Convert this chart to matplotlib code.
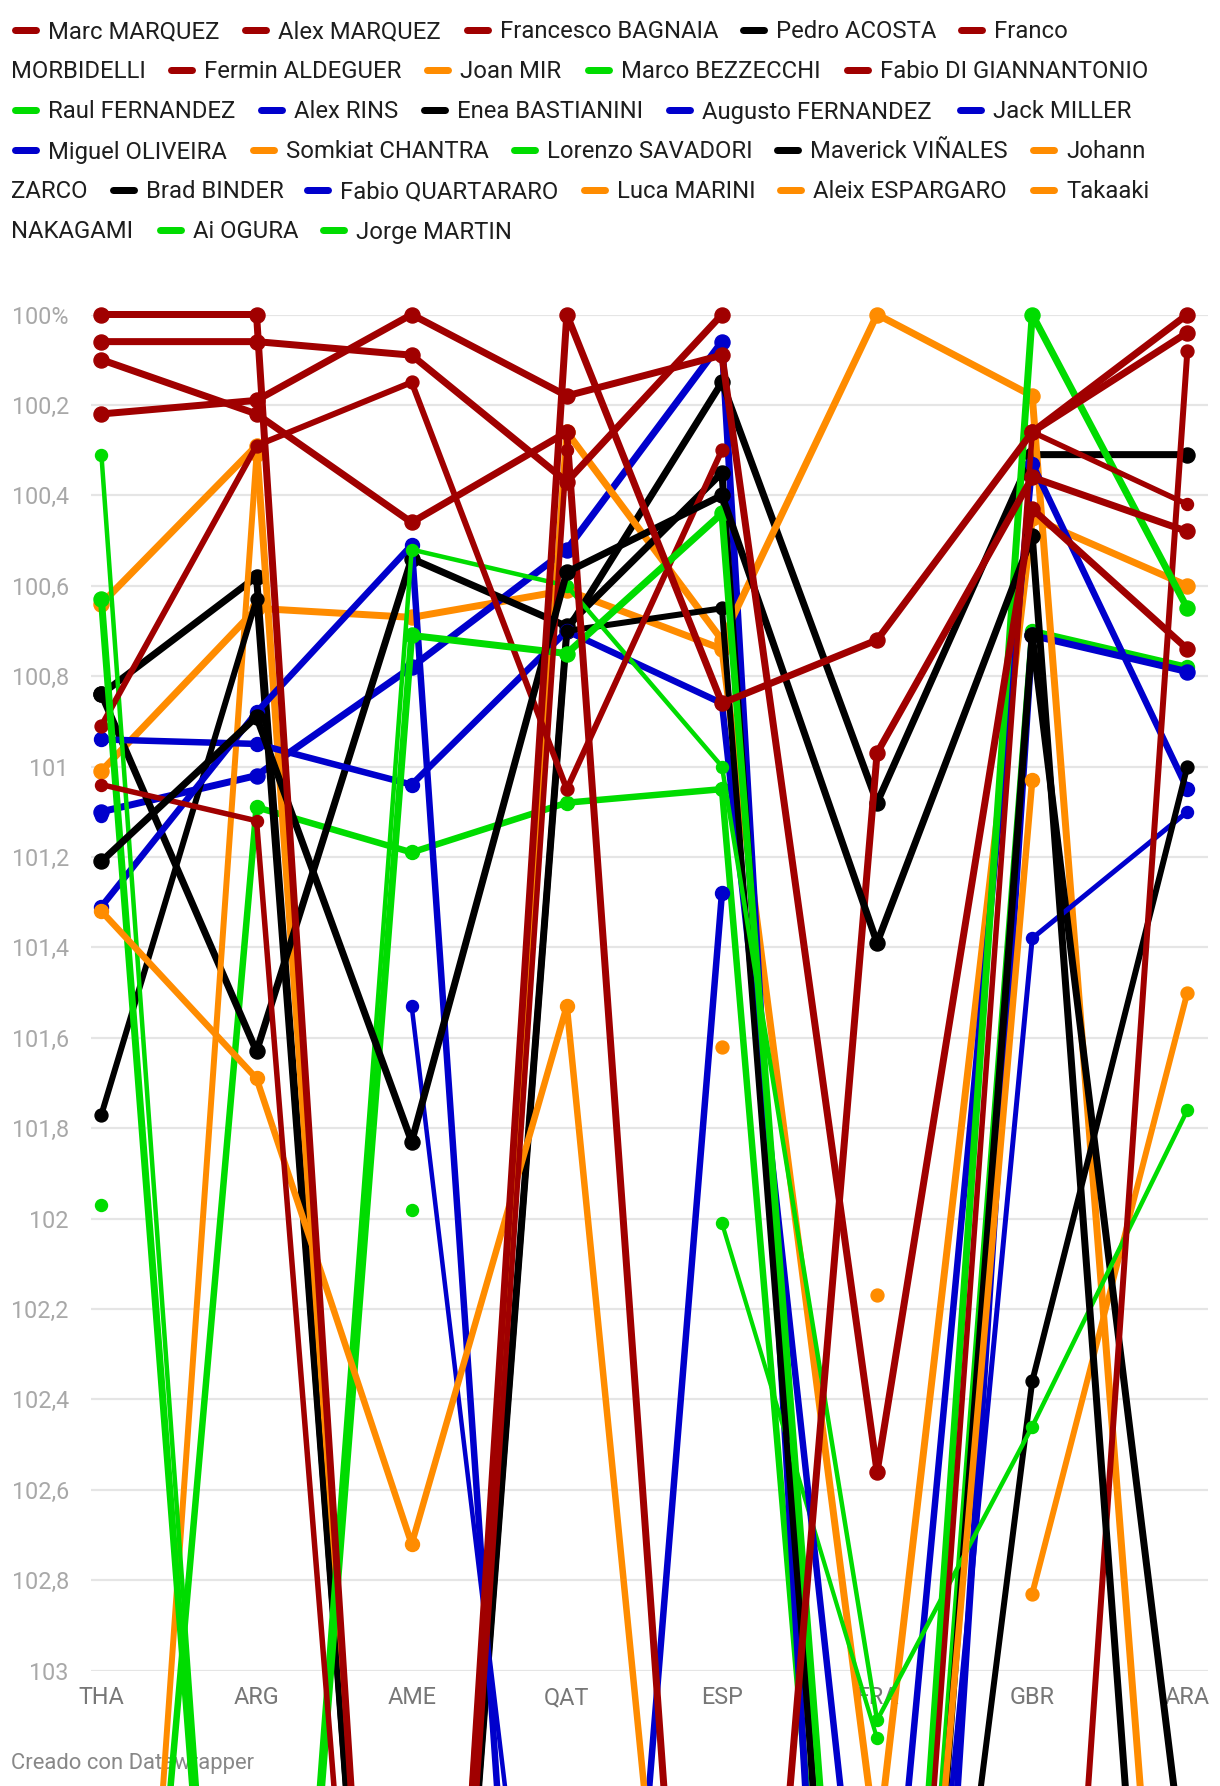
import matplotlib
matplotlib.use("Agg")
import matplotlib.pyplot as plt
from matplotlib.lines import Line2D
import numpy as np

nan = np.nan
plt.rcParams['font.family'] = ['Roboto', 'DejaVu Sans']

# races on the x axis
races = ["THA", "ARG", "AME", "QAT", "ESP", "FRA", "GBR", "ARA"]

# % of the best time per race (values past 103 run off the chart, nan = no result)
marc_marquez = [100.00, 100.00, 105.35, 100.00, 100.86, 100.72, 100.26, 100.00]
alex_marquez = [100.06, 100.06, 100.09, 100.37, 100.00, nan, 100.26, 100.04]
bagnaia = [100.22, 100.19, 100.00, 100.18, 100.09, 102.56, 100.43, 100.74]
acosta = [101.21, 100.89, 101.83, 100.57, 100.40, 101.39, 100.49, 105.1]
morbidelli = [100.10, 100.22, 100.46, 100.26, 105.05, 100.97, 100.36, 100.48]
aldeguer = [101.04, 101.12, 105.4, 100.30, nan, 105.0, 100.26, 100.42]
mir = [101.32, 101.69, 102.72, 101.53, 105.0, 105.0, 101.03, nan]
bezzecchi = [100.63, 105.1, 100.71, 100.75, 100.44, 104.9, 100.00, 100.65]
di_giannantonio = [100.91, 100.29, 100.15, 101.05, 100.30, nan, 105.05, 100.08]
raul_fernandez = [100.31, 105.1, 100.52, 100.60, 101.00, 103.11, 102.46, 101.76]
rins = [101.31, 100.88, 100.51, 105.5, 101.28, nan, nan, nan]
bastianini = [101.77, 100.63, 105.2, 100.70, 100.65, 105.07, 102.36, 101.00]
augusto_fernandez = [101.11, nan, 101.53, 104.4, nan, nan, nan, nan]
miller = [100.94, 100.95, 101.04, 100.70, 100.86, 104.0, 100.33, 101.05]
oliveira = [nan, nan, nan, nan, nan, 105.0, 101.38, 101.10]
chantra = [105.2, 100.31, nan, nan, nan, nan, nan, nan]
savadori = [101.97, nan, 101.98, nan, 102.01, 103.15, nan, nan]
vinales = [100.84, 101.63, 100.54, 100.69, 100.35, 105.3, 100.71, 103.5]
zarco = [100.64, 100.29, 105.2, 100.26, 100.72, 100.00, 100.18, 104.6]
binder = [100.84, 100.58, 105.2, 100.70, 100.15, 101.08, 100.31, 100.31]
quartararo = [101.10, 101.02, 100.78, 100.52, 100.06, 106.0, 100.71, 100.79]
marini = [101.01, 100.65, 100.67, 100.61, 100.74, 103.4, 100.45, 100.60]
espargaro = [nan, nan, nan, nan, nan, 102.17, nan, nan]
nakagami = [nan, nan, nan, nan, 101.62, nan, 102.83, 101.50]
ogura = [105.0, 101.09, 101.19, 101.08, 101.05, 105.1, 100.70, 100.78]
martin = [nan, nan, nan, nan, nan, nan, nan, nan]

riders = ["Marc MARQUEZ", "Alex MARQUEZ", "Francesco BAGNAIA", "Pedro ACOSTA",
          "Franco MORBIDELLI", "Fermin ALDEGUER", "Joan MIR", "Marco BEZZECCHI",
          "Fabio DI GIANNANTONIO", "Raul FERNANDEZ", "Alex RINS", "Enea BASTIANINI",
          "Augusto FERNANDEZ", "Jack MILLER", "Miguel OLIVEIRA", "Somkiat CHANTRA",
          "Lorenzo SAVADORI", "Maverick VIÑALES", "Johann ZARCO", "Brad BINDER",
          "Fabio QUARTARARO", "Luca MARINI", "Aleix ESPARGARO", "Takaaki NAKAGAMI",
          "Ai OGURA", "Jorge MARTIN"]
values = [marc_marquez, alex_marquez, bagnaia, acosta, morbidelli, aldeguer, mir,
          bezzecchi, di_giannantonio, raul_fernandez, rins, bastianini,
          augusto_fernandez, miller, oliveira, chantra, savadori, vinales, zarco,
          binder, quartararo, marini, espargaro, nakagami, ogura, martin]

RED, BLACK, ORANGE, GREEN, BLUE = "#a00000", "#000000", "#ff8c00", "#00dc00", "#0000cc"
colors = [RED, RED, RED, BLACK, RED, RED, ORANGE, GREEN, RED, GREEN, BLUE, BLACK,
          BLUE, BLUE, BLUE, ORANGE, GREEN, BLACK, ORANGE, BLACK, BLUE, ORANGE,
          ORANGE, ORANGE, GREEN, GREEN]
# line widths in pixels
widths = [7, 7, 7, 7, 7, 5.5, 6.5, 7, 6, 4.5, 6.5, 6, 4.5, 6.5, 5, 6, 4.2, 7, 7,
          7, 7, 7, 6, 6, 6.5, 6]

yticks = [100, 100.2, 100.4, 100.6, 100.8, 101, 101.2, 101.4, 101.6, 101.8,
          102, 102.2, 102.4, 102.6, 102.8, 103]
ylabels = ["100%", "100,2", "100,4", "100,6", "100,8", "101", "101,2", "101,4",
           "101,6", "101,8", "102", "102,2", "102,4", "102,6", "102,8", "103"]

W, H = 1220, 1786
PT = 0.72  # points per pixel at dpi 100

fig = plt.figure(figsize=(W / 100, H / 100), dpi=100)
ax = fig.add_axes([91 / W, 1 - 1670.6 / H, (1208 - 91) / W, (1670.6 - 314.5) / H])
ax.set_xlim(-0.067, 7.133)
ax.set_ylim(103, 100)
for s in ax.spines.values():
    s.set_visible(False)
ax.set_axisbelow(True)
ax.grid(axis="y", color="#e5e5e5", lw=1.6)
ax.set_yticks(yticks)
ax.set_yticklabels(ylabels)
ax.set_xticks(range(len(races)))
ax.set_xticklabels(races)
ax.tick_params(axis="y", length=0, pad=16, labelsize=16.8, labelcolor="#a8a8a8")
ax.tick_params(axis="x", length=0, pad=11, labelsize=16.8, labelcolor="#777777")

x = np.arange(len(races))
for i in range(len(riders) - 1, -1, -1):
    lw = widths[i]
    ax.plot(x, values[i], color=colors[i], lw=lw * PT, marker="o",
            markersize=max(lw * 2.15, 12) * PT, solid_joinstyle="round",
            solid_capstyle="round", clip_on=False, zorder=3)

ax.text(11 / W, 1 - 1763 / H, "Creado con Datawrapper", transform=fig.transFigure,
        fontsize=15.8, color="#888888", va="center", ha="left", zorder=1,
        clip_on=False)

# legend, laid out like the wrapped html legend
row_y = [30, 70, 110, 150, 190, 230]
legend_items = [
    (0, 11, "Marc MARQUEZ"), (0, 241, "Alex MARQUEZ"), (0, 463, "Francesco BAGNAIA"),
    (0, 739, "Pedro ACOSTA"), (0, 957, "Franco"), (1, None, "MORBIDELLI"),
    (1, 167, "Fermin ALDEGUER"), (1, 423, "Joan MIR"), (1, 584, "Marco BEZZECCHI"),
    (1, 843, "Fabio DI GIANNANTONIO"), (2, 11, "Raul FERNANDEZ"), (2, 257, "Alex RINS"),
    (2, 420, "Enea BASTIANINI"), (2, 665, "Augusto FERNANDEZ"), (2, 956, "Jack MILLER"),
    (3, 11, "Miguel OLIVEIRA"), (3, 249, "Somkiat CHANTRA"), (3, 510, "Lorenzo SAVADORI"),
    (3, 773, "Maverick VIÑALES"), (3, 1029, "Johann"), (4, None, "ZARCO"),
    (4, 109, "Brad BINDER"), (4, 303, "Fabio QUARTARARO"), (4, 580, "Luca MARINI"),
    (4, 776, "Aleix ESPARGARO"), (4, 1029, "Takaaki"), (5, None, "NAKAGAMI"),
    (5, 156, "Ai OGURA"), (5, 319, "Jorge MARTIN"),
]
k = 0
for row, xm, label in legend_items:
    yc = row_y[row]
    if xm is None:
        fig.text(11 / W, 1 - (yc + 8.5) / H, label, fontsize=17.2, color="#1e1e1e",
                 va="baseline", ha="left")
        continue
    fig.add_artist(Line2D([(xm + 4) / W, (xm + 25) / W], [1 - yc / H, 1 - yc / H],
                          transform=fig.transFigure, color=colors[k], lw=7 * PT,
                          solid_capstyle="round"))
    fig.text((xm + 37) / W, 1 - (yc + 8.5) / H, label, fontsize=17.2, color="#1e1e1e",
             va="baseline", ha="left")
    k += 1

fig.savefig("out.png", dpi=100)
